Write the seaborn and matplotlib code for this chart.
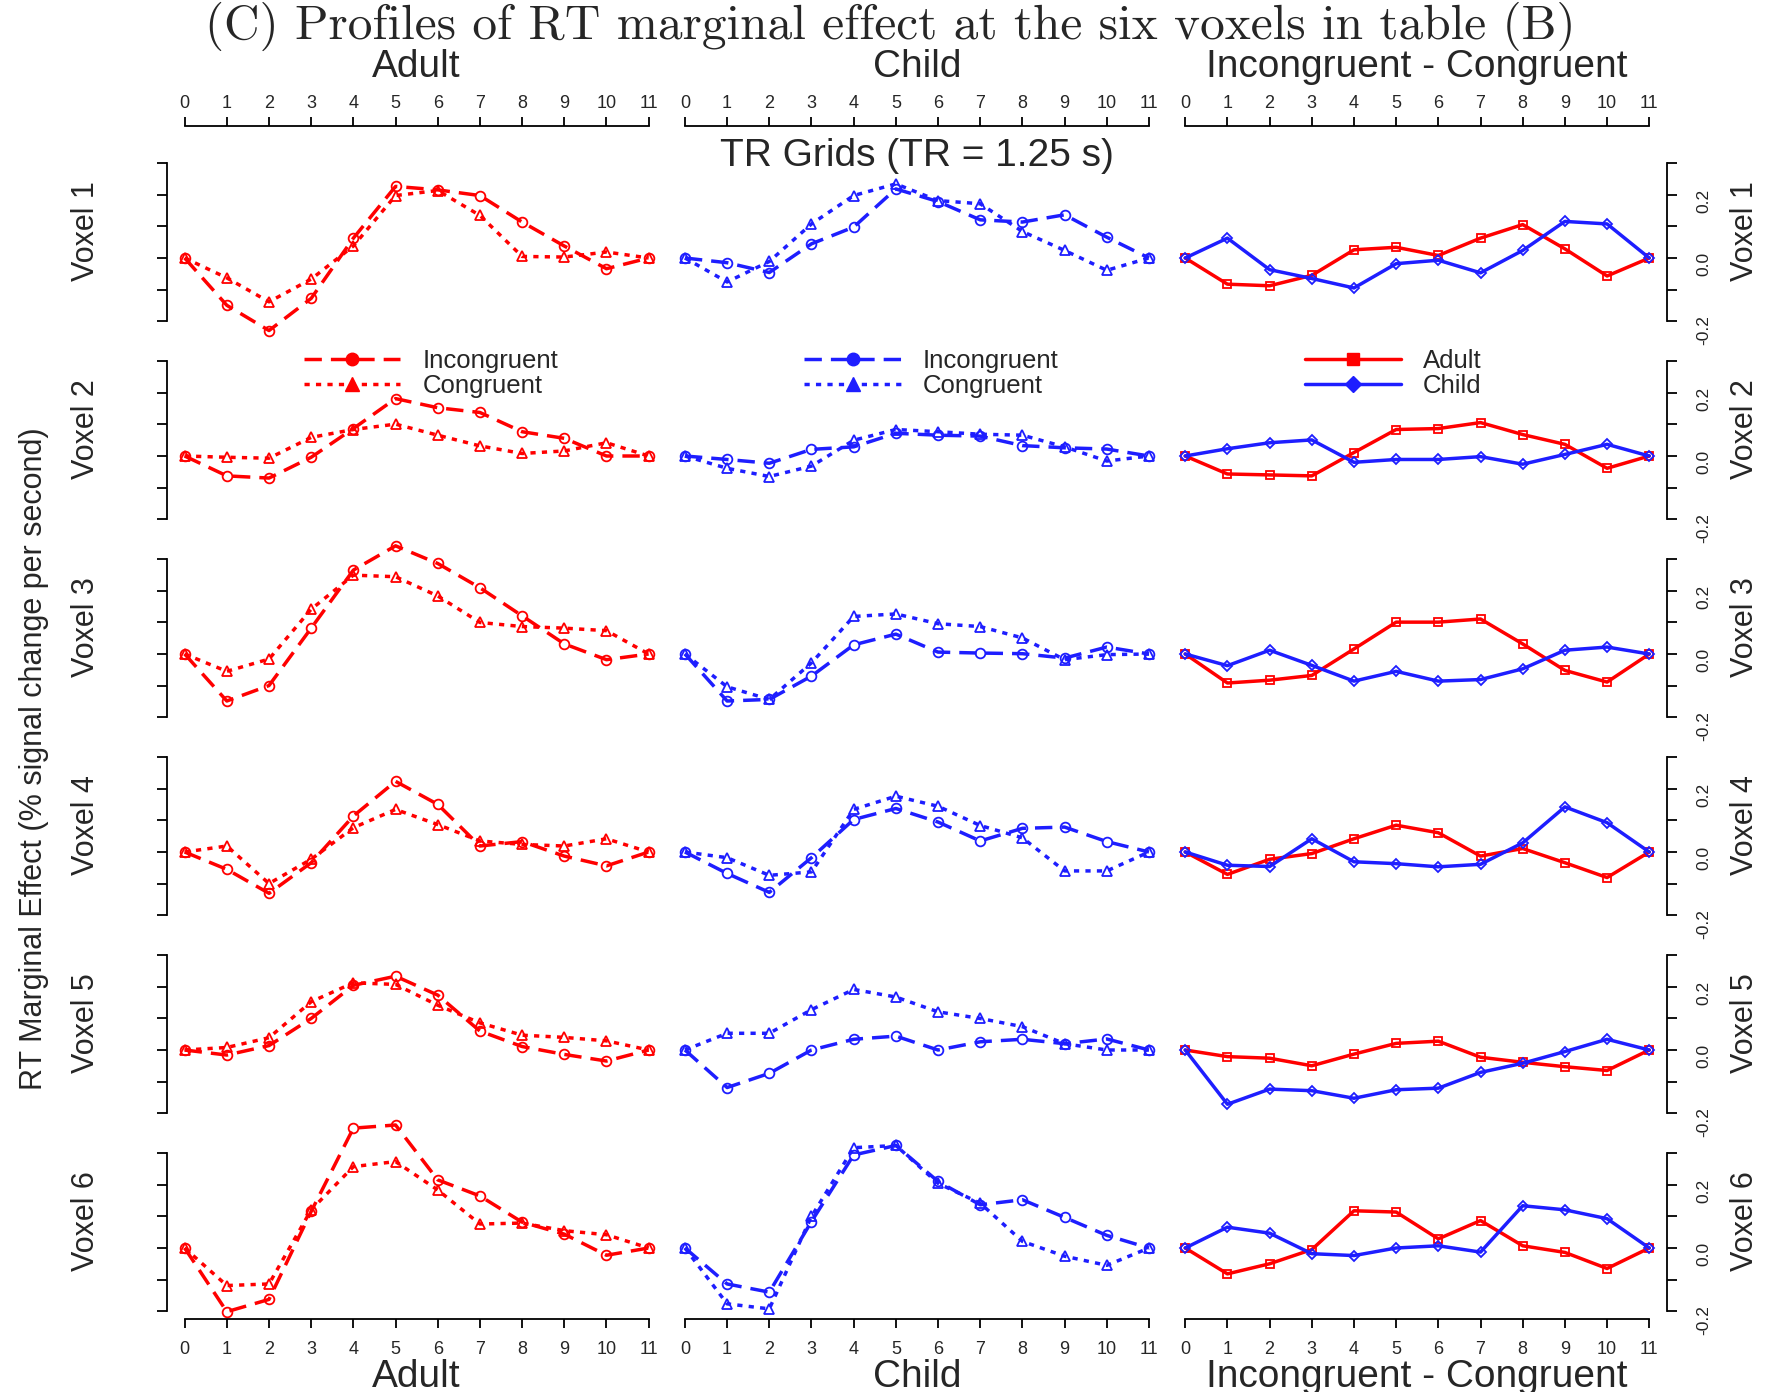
import numpy as np
import pandas as pd
import matplotlib
matplotlib.use("Agg")
import matplotlib.pyplot as plt
import seaborn as sns
from matplotlib.lines import Line2D

# ---------------- data ----------------
tr_grid = list(range(12))
tick_labels = [str(i) for i in tr_grid]
voxel_names = ["Voxel 1", "Voxel 2", "Voxel 3", "Voxel 4", "Voxel 5", "Voxel 6"]
column_titles = ["Adult", "Child", "Incongruent - Congruent"]
main_title = "(C) Profiles of RT marginal effect at the six voxels in table (B)"
axis_title = "TR Grids (TR = 1.25 s)"
y_title = "RT Marginal Effect (% signal change per second)"
y_ticks = [-0.2, -0.1, 0.0, 0.1, 0.2, 0.3]
y_ticklabels = ["-0.2", "", "0.0", "", "0.2", ""]

adult_incongruent = [
    [0, -0.150, -0.230, -0.128, 0.063, 0.227, 0.216, 0.198, 0.114, 0.038, -0.034, 0],
    [0, -0.063, -0.070, -0.004, 0.087, 0.182, 0.153, 0.138, 0.077, 0.056, 0.000, 0],
    [0, -0.149, -0.100, 0.082, 0.266, 0.343, 0.287, 0.210, 0.121, 0.032, -0.018, 0],
    [0, -0.055, -0.131, -0.034, 0.114, 0.224, 0.151, 0.019, 0.033, -0.013, -0.044, 0],
    [0, -0.016, 0.014, 0.100, 0.205, 0.234, 0.174, 0.060, 0.011, -0.014, -0.035, 0],
    [0, -0.202, -0.163, 0.116, 0.380, 0.390, 0.216, 0.165, 0.082, 0.044, -0.023, 0],
]
adult_congruent = [
    [0, -0.063, -0.139, -0.067, 0.038, 0.198, 0.214, 0.135, 0.005, 0.003, 0.019, 0],
    [0, -0.004, -0.007, 0.059, 0.084, 0.101, 0.066, 0.032, 0.008, 0.016, 0.042, 0],
    [0, -0.055, -0.016, 0.142, 0.250, 0.245, 0.184, 0.100, 0.087, 0.082, 0.074, 0],
    [0, 0.019, -0.100, -0.023, 0.077, 0.135, 0.087, 0.035, 0.024, 0.019, 0.042, 0],
    [0, 0.008, 0.039, 0.153, 0.213, 0.208, 0.142, 0.086, 0.047, 0.040, 0.029, 0],
    [0, -0.119, -0.114, 0.121, 0.258, 0.274, 0.184, 0.076, 0.079, 0.055, 0.042, 0],
]
child_incongruent = [
    [0, -0.015, -0.046, 0.045, 0.098, 0.219, 0.179, 0.121, 0.114, 0.137, 0.066, 0],
    [0, -0.011, -0.023, 0.021, 0.029, 0.072, 0.066, 0.063, 0.033, 0.026, 0.022, 0],
    [0, -0.149, -0.144, -0.070, 0.029, 0.063, 0.006, 0.003, 0.001, -0.013, 0.022, 0],
    [0, -0.068, -0.128, -0.018, 0.103, 0.138, 0.095, 0.035, 0.075, 0.079, 0.033, 0],
    [0, -0.119, -0.074, 0.000, 0.034, 0.044, 0.000, 0.026, 0.034, 0.020, 0.035, 0],
    [0, -0.114, -0.140, 0.084, 0.295, 0.325, 0.211, 0.137, 0.153, 0.097, 0.040, 0],
]
child_congruent = [
    [0, -0.076, -0.011, 0.108, 0.198, 0.235, 0.182, 0.172, 0.084, 0.024, -0.039, 0],
    [0, -0.039, -0.065, -0.032, 0.050, 0.084, 0.077, 0.069, 0.066, 0.029, -0.016, 0],
    [0, -0.104, -0.144, -0.028, 0.119, 0.127, 0.096, 0.087, 0.051, -0.018, -0.002, 0],
    [0, -0.018, -0.074, -0.063, 0.135, 0.177, 0.145, 0.084, 0.045, -0.060, -0.060, 0],
    [0, 0.053, 0.053, 0.128, 0.192, 0.168, 0.121, 0.100, 0.074, 0.020, 0.000, 0],
    [0, -0.177, -0.193, 0.100, 0.318, 0.325, 0.205, 0.142, 0.021, -0.026, -0.055, 0],
]
diff_adult = [
    [0, -0.083, -0.088, -0.055, 0.026, 0.034, 0.008, 0.063, 0.106, 0.029, -0.057, 0],
    [0, -0.057, -0.060, -0.063, 0.011, 0.084, 0.087, 0.106, 0.068, 0.037, -0.039, 0],
    [0, -0.092, -0.083, -0.068, 0.016, 0.101, 0.101, 0.111, 0.032, -0.052, -0.089, 0],
    [0, -0.071, -0.023, -0.005, 0.042, 0.085, 0.061, -0.013, 0.011, -0.034, -0.081, 0],
    [0, -0.021, -0.026, -0.050, -0.013, 0.021, 0.028, -0.023, -0.039, -0.053, -0.065, 0],
    [0, -0.082, -0.050, -0.005, 0.118, 0.114, 0.029, 0.087, 0.007, -0.014, -0.065, 0],
]
diff_child = [
    [0, 0.063, -0.037, -0.065, -0.095, -0.018, -0.007, -0.047, 0.024, 0.116, 0.108, 0],
    [0, 0.023, 0.042, 0.051, -0.020, -0.011, -0.011, -0.002, -0.026, 0.005, 0.037, 0],
    [0, -0.037, 0.012, -0.036, -0.086, -0.055, -0.086, -0.081, -0.047, 0.012, 0.022, 0],
    [0, -0.042, -0.046, 0.042, -0.031, -0.037, -0.047, -0.039, 0.029, 0.143, 0.093, 0],
    [0, -0.172, -0.124, -0.129, -0.153, -0.126, -0.121, -0.071, -0.042, -0.005, 0.034, 0],
    [0, 0.066, 0.047, -0.018, -0.024, 0.000, 0.007, -0.013, 0.134, 0.121, 0.093, 0],
]

# ---------------- style ----------------
sns.set_theme(style="white")
plt.rcParams["font.family"] = ["Liberation Sans", "DejaVu Sans"]

RED = "#FF0000"
BLUE = "#1E1EFF"
INC_LS = (0, (5.0, 2.6))
CON_LS = (0, (1.5, 1.8))
SOLID = "-"
LW = 2.5

W, H = 1766, 1392
fig = plt.figure(figsize=(W / 100, H / 100), dpi=100)

ZERO0 = 258.0
ROW_PITCH = 198.0
PX_PER_UNIT = 315.4
YLO, YHI = -0.226, 0.32
COL_LEFT0 = 166.5
COL_W = 500.3
XLO, XHI = -0.43, 11.43


def draw(ax, values, color, ls, marker, ms):
    df = pd.DataFrame({"TR": tr_grid, "value": values})
    sns.lineplot(data=df, x="TR", y="value", ax=ax, color=color, linestyle=ls,
                 linewidth=LW, marker=marker, markersize=ms,
                 markerfacecolor="none", markeredgecolor=color,
                 markeredgewidth=1.3, clip_on=False, errorbar=None, sort=False)
    ax.set_xlabel("")
    ax.set_ylabel("")


for r in range(6):
    zero = ZERO0 + ROW_PITCH * r
    top = zero - YHI * PX_PER_UNIT
    bottom = zero - YLO * PX_PER_UNIT
    for c in range(3):
        left = COL_LEFT0 + COL_W * c
        ax = fig.add_axes([left / W, 1 - bottom / H, COL_W / W, (bottom - top) / H])
        ax.patch.set_alpha(0)

        if c == 0:
            draw(ax, adult_incongruent[r], RED, INC_LS, "o", 7)
            draw(ax, adult_congruent[r], RED, CON_LS, "^", 7.5)
        elif c == 1:
            draw(ax, child_incongruent[r], BLUE, INC_LS, "o", 7)
            draw(ax, child_congruent[r], BLUE, CON_LS, "^", 7.5)
        else:
            draw(ax, diff_adult[r], RED, SOLID, "s", 5.5)
            draw(ax, diff_child[r], BLUE, SOLID, "D", 5.5)

        ax.set_xlim(XLO, XHI)
        ax.set_ylim(YLO, YHI)
        for s in ax.spines.values():
            s.set_visible(False)
            s.set_color("black")
            s.set_linewidth(1.3)

        # y axis
        if c == 0:
            ax.spines["left"].set_visible(True)
            ax.spines["left"].set_bounds(-0.2, 0.3)
            ax.yaxis.set_ticks_position("left")
            ax.set_yticks(y_ticks)
            ax.tick_params(axis="y", direction="out", length=7, width=1.3,
                           color="black", left=True, labelleft=False)
        elif c == 2:
            ax.spines["right"].set_visible(True)
            ax.spines["right"].set_bounds(-0.2, 0.3)
            ax.yaxis.set_ticks_position("right")
            ax.set_yticks(y_ticks)
            ax.set_yticklabels(y_ticklabels)
            ax.tick_params(axis="y", direction="out", length=7, width=1.3,
                           color="black", right=True, labelright=True, left=False,
                           labelleft=False, labelsize=12.5, labelrotation=90, pad=14,
                           labelcolor="#222222")
        else:
            ax.set_yticks([])

        # x axis
        if r == 0:
            ax.spines["top"].set_visible(True)
            ax.spines["top"].set_bounds(0, 11)
            ax.spines["top"].set_position(("outward", 22.3))
            ax.xaxis.set_ticks_position("top")
            ax.set_xticks(tr_grid)
            ax.set_xticklabels(tick_labels)
            ax.tick_params(axis="x", direction="out", length=6.5, width=1.3,
                           color="black", top=True, labeltop=True, bottom=False,
                           labelbottom=False, labelsize=13, pad=4)
        elif r == 5:
            ax.spines["bottom"].set_visible(True)
            ax.spines["bottom"].set_bounds(0, 11)
            ax.xaxis.set_ticks_position("bottom")
            ax.set_xticks(tr_grid)
            ax.set_xticklabels(tick_labels)
            ax.tick_params(axis="x", direction="out", length=6.5, width=1.3,
                           color="black", bottom=True, labelbottom=True, top=False,
                           labeltop=False, labelsize=13, pad=9)
        else:
            ax.set_xticks([])

        # legends in the second row
        if r == 1:
            if c < 2:
                col = RED if c == 0 else BLUE
                handles = [
                    Line2D([], [], color=col, linestyle=INC_LS, lw=LW, marker="o",
                           ms=9, mfc=col, mec=col),
                    Line2D([], [], color=col, linestyle=CON_LS, lw=LW, marker="^",
                           ms=10, mfc=col, mec=col),
                ]
                labels = ["Incongruent", "Congruent"]
            else:
                handles = [
                    Line2D([], [], color=RED, linestyle=SOLID, lw=LW, marker="s",
                           ms=8, mfc=RED, mec=RED),
                    Line2D([], [], color=BLUE, linestyle=SOLID, lw=LW, marker="D",
                           ms=8, mfc=BLUE, mec=BLUE),
                ]
                labels = ["Adult", "Child"]
            ax.legend(handles, labels, loc="upper left", bbox_to_anchor=(0.275, 1.035),
                      frameon=False, fontsize=18.5, handlelength=3.75, handletextpad=0.85,
                      labelspacing=0.05, borderpad=0, borderaxespad=0)

        # voxel labels
        if c == 0:
            fig.text(86 / W, 1 - (zero - 27) / H, voxel_names[r], rotation=90,
                     ha="center", va="center", fontsize=22)
        if c == 2:
            fig.text(1745 / W, 1 - (zero - 27) / H, voxel_names[r], rotation=90,
                     ha="center", va="center", fontsize=22)

# titles
fig.text(890 / W, 1 - 26 / H, main_title, ha="center", va="center", fontsize=35.5,
         family=["cmr10", "DejaVu Serif"])
for c, t in enumerate(column_titles):
    xc = COL_LEFT0 + COL_W * c + (0 - XLO + 5.5) * COL_W / (XHI - XLO)
    fig.text(xc / W, 1 - 67 / H, t, ha="center", va="center", fontsize=28)
    fig.text(xc / W, 1 - 1377 / H, t, ha="center", va="center", fontsize=28)
fig.text(917 / W, 1 - 156 / H, axis_title, ha="center", va="center", fontsize=28)
fig.text(34 / W, 1 - 759 / H, y_title, rotation=90, ha="center", va="center",
         fontsize=22)

fig.savefig("out.png", dpi=100)
